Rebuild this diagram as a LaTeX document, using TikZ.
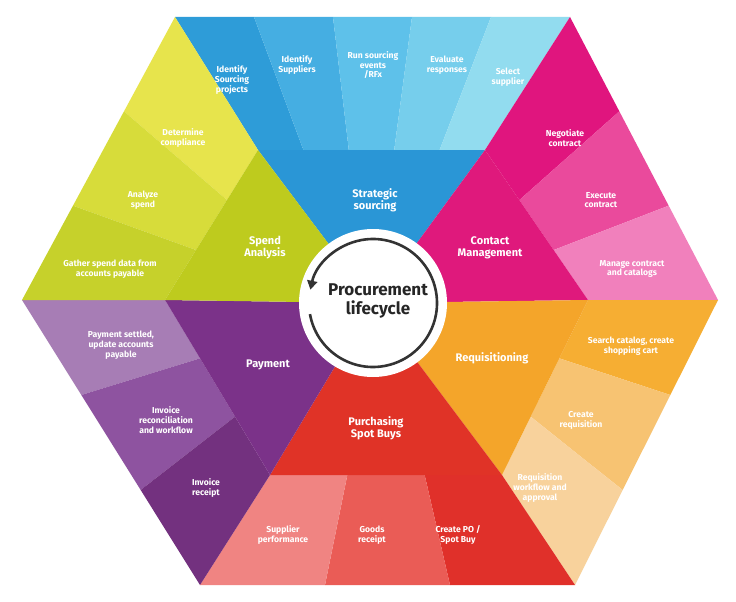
\documentclass[tikz,border=0pt]{standalone}
\usepackage{fontspec}
\setmainfont{Fira Sans}
\usetikzlibrary{calc,arrows.meta}
\definecolor{b1}{HTML}{2E9CD8}\definecolor{b2}{HTML}{45AEE2}\definecolor{b3}{HTML}{5EC1EA}\definecolor{b4}{HTML}{76CEEC}\definecolor{b5}{HTML}{92DCEF}\definecolor{bt}{HTML}{2A96D6}
\definecolor{y1}{HTML}{E7E44C}\definecolor{y2}{HTML}{D7DC3A}\definecolor{y3}{HTML}{C6D12B}\definecolor{yt}{HTML}{BECB1E}
\definecolor{m1}{HTML}{E0157E}\definecolor{m2}{HTML}{EA4A9C}\definecolor{m3}{HTML}{F180BC}\definecolor{mt}{HTML}{DF197C}
\definecolor{o1}{HTML}{F6AE33}\definecolor{o2}{HTML}{F7C372}\definecolor{o3}{HTML}{F8D29C}\definecolor{ot}{HTML}{F4A52A}
\definecolor{r1}{HTML}{F08482}\definecolor{r2}{HTML}{EA5C56}\definecolor{r3}{HTML}{E0302A}\definecolor{rt}{HTML}{E03327}
\definecolor{p1}{HTML}{A77DB5}\definecolor{p2}{HTML}{8E53A0}\definecolor{p3}{HTML}{73317F}\definecolor{pt}{HTML}{7B3289}
\tikzset{lbl/.style={text=white,font=\bfseries\fontsize{8.6}{9.8}\selectfont,align=center,inner sep=0pt},
 tlbl/.style={text=white,font=\bfseries\fontsize{11}{12}\selectfont,align=center,inner sep=0pt}}
\newcommand{\myband}[6]{%
 \foreach \c [count=\i from 0] in {#6}{%
  \pgfmathsetmacro{\fa}{\i/#5}\pgfmathsetmacro{\fb}{(\i+1)/#5}%
  \fill[\c] ($(#1)!\fa!(#2)$) -- ($(#1)!\fb!(#2)$) -- ($(#3)!\fb!(#4)$) -- ($(#3)!\fa!(#4)$) -- cycle;}}
\begin{document}
\begin{tikzpicture}[x=1pt,y=-1pt]
\useasboundingbox (0,0) rectangle (736,602);
\fill[white] (0,0) rectangle (736,602);
\coordinate (TL) at (175,17); \coordinate (TR) at (570,17); \coordinate (R) at (718,300);
\coordinate (BR) at (575,585); \coordinate (BL) at (200,585); \coordinate (L) at (22,300);
\coordinate (a1) at (258,150); \coordinate (a2) at (485,150); \coordinate (a3) at (588,300);
\coordinate (a4) at (502,475); \coordinate (a5) at (270,475); \coordinate (a6) at (165,300);
\coordinate (C) at (373,303);
\myband{TL}{TR}{a1}{a2}{5}{b1,b2,b3,b4,b5}
\myband{TR}{R}{a2}{a3}{3}{m1,m2,m3}
\myband{R}{BR}{a3}{a4}{3}{o1,o2,o3}
\myband{BR}{BL}{a4}{a5}{3}{r3,r2,r1}
\myband{L}{BL}{a6}{a5}{3}{p1,p2,p3}
\myband{TL}{L}{a1}{a6}{3}{y1,y2,y3}
\fill[bt] (a1)--(a2)--(C)--cycle;
\fill[mt] (a2)--(a3)--(C)--cycle;
\fill[ot] (a3)--(a4)--(C)--cycle;
\fill[rt] (a4)--(a5)--(C)--cycle;
\fill[pt] (a5)--(a6)--(C)--cycle;
\fill[yt] (a6)--(a1)--(C)--cycle;
\node[fill=white,circle,minimum size=148pt,inner sep=0pt] (hub) at (C) {};
\draw[line width=2.6pt,color=black!80,-{Triangle[length=9pt,width=10pt]}] ($(C)+(170:64)$) arc[start angle=170,end angle=-168,radius=64];
\node[font=\bfseries\fontsize{17}{19}\selectfont,align=center,text=black!85] (title) at (378,301) {Procurement\\lifecycle};
% strip labels
\node[lbl] (s1) at (232,80) {Identify\\Sourcing\\projects};
\node[lbl] (s2) at (297,65) {Identify\\Suppliers};
\node[lbl] (s3) at (373,65) {Run sourcing\\events\\/RFx};
\node[lbl] (s4) at (447,65) {Evaluate\\responses};
\node[lbl] (s5) at (508,77) {Select\\supplier};
\node[lbl] (y1n) at (183,138) {Determine\\compliance};
\node[lbl] (y2n) at (143,200) {Analyze\\spend};
\node[lbl] (y3n) at (110,269) {Gather spend data from\\accounts payable};
\node[lbl] (m1n) at (565,138) {Negotiate\\contract};
\node[lbl] (m2n) at (601,200) {Execute\\contract};
\node[lbl] (m3n) at (632,269) {Manage contract\\and catalogs};
\node[lbl] (o1n) at (631,346) {Search catalog, create\\shopping cart};
\node[lbl] (o2n) at (581,420) {Create\\requisition};
\node[lbl] (o3n) at (540,488) {Requisition\\workflow and\\approval};
\node[lbl] (r1n) at (283,535) {Supplier\\performance};
\node[lbl] (r2n) at (372,535) {Goods\\receipt};
\node[lbl] (r3n) at (458,535) {Create PO /\\Spot Buy};
\node[lbl] (p1n) at (121,345) {Payment settled,\\update accounts\\payable};
\node[lbl] (p2n) at (166,420) {Invoice\\reconciliation\\and workflow};
\node[lbl] (p3n) at (206,488) {Invoice\\receipt};
% triangle labels
\node[tlbl] (t1) at (375,200) {Strategic\\sourcing};
\node[tlbl] (t2) at (265,248) {Spend\\Analysis};
\node[tlbl] (t3) at (490,248) {Contact\\Management};
\node[tlbl] (t4) at (492,358) {Requisitioning};
\node[tlbl] (t5) at (376,428) {Purchasing\\Spot Buys};
\node[tlbl] (t6) at (268,365) {Payment};
\end{tikzpicture}
\end{document}
